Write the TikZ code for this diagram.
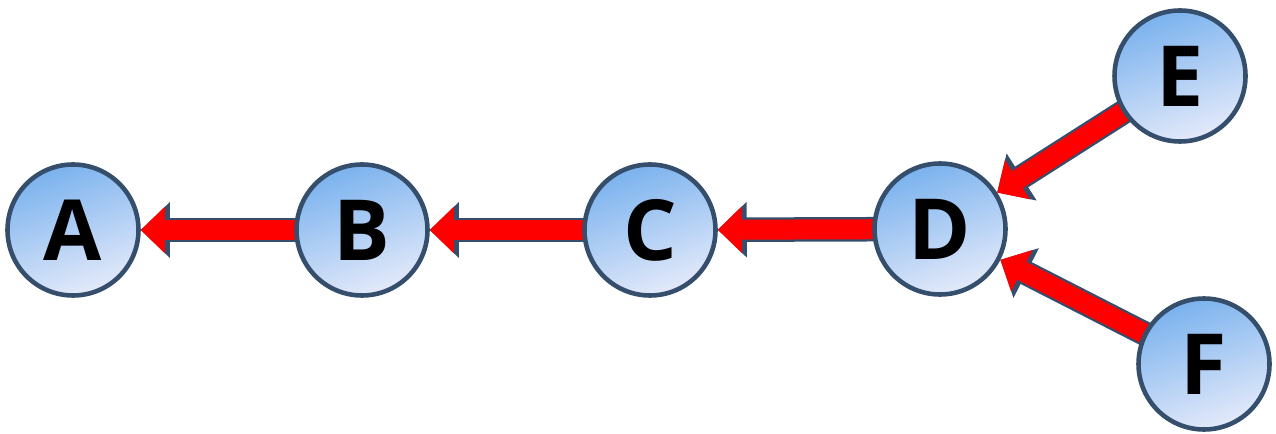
\documentclass[tikz,border=0pt]{standalone}
\usepackage{fontspec}
\setmainfont{Open Sans}
\usetikzlibrary{arrows.meta,backgrounds}
\definecolor{nodetop}{RGB}{122,178,238}
\definecolor{nodebot}{RGB}{228,234,250}
\definecolor{rim}{RGB}{52,78,108}
\begin{document}
\begin{tikzpicture}
        \tikzstyle{vertex}=[circle,draw=rim,line width=1.3pt,top color=nodetop,bottom color=nodebot,shading angle=20,minimum size=1.31cm,inner sep=0pt,font=\fontsize{24}{24}\selectfont\bfseries]
        \tikzstyle{flow}=[draw=red,line width=0.20cm,shorten <=-3pt,-{Triangle[length=0.24cm,width=0.45cm]},preaction={draw=rim,line width=0.245cm,shorten <=-3pt,-{Triangle[length=0.29cm,width=0.54cm]}}]
       \useasboundingbox (0,0) rectangle (12.76,4.33);
         \node [vertex] (A) at (0.73,2.03) {A};
         \node [vertex] (B) at (3.62,2.03) {B};
         \node [vertex] (C) at (6.50,2.03) {C};
         \node [vertex] (D) at (9.40,2.04) {D};
         \node [vertex] (E) at (11.80,3.57) {E};
         \node [vertex] (F) at (12.04,0.69) {F};
       \begin{scope}[on background layer]
         \path[flow] (B) -- (A);
         \path[flow] (C) -- (B);
         \path[flow] (D) -- (C);
         \path[flow] (E) -- (D);
         \path[flow] (F) -- (D);
        \end{scope}
      \end{tikzpicture}
\end{document}
